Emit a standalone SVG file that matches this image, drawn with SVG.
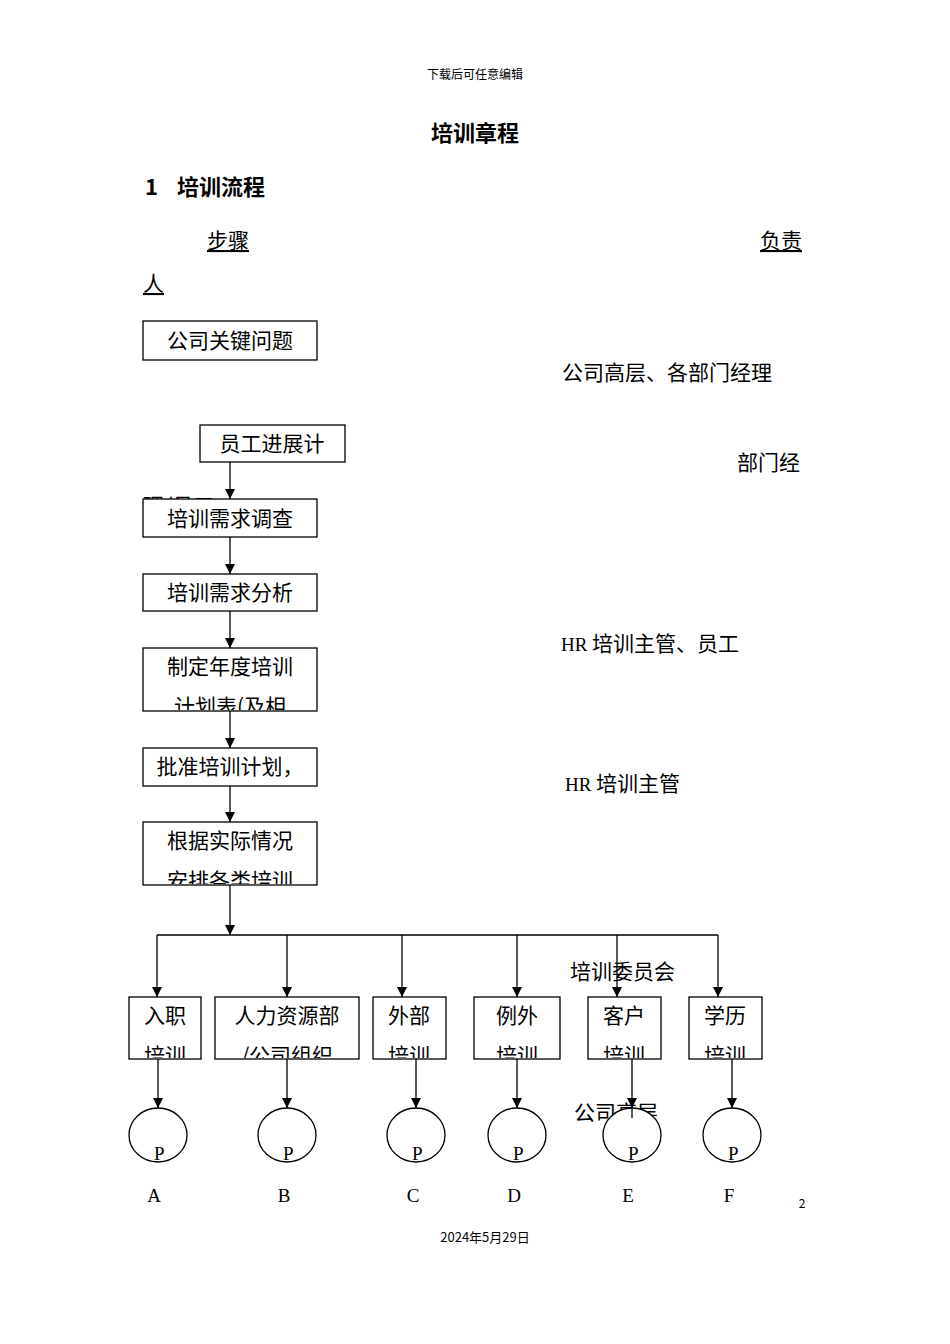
<svg xmlns="http://www.w3.org/2000/svg" width="950" height="1344" viewBox="0 0 950 1344">
<style>
text{font-family:"Noto Sans CJK SC","Liberation Sans",sans-serif;fill:#000}
.t{font-size:21px}
.s{font-family:"Liberation Serif","Noto Sans CJK SC",serif;font-size:19px}
.b{fill:#fff;stroke:#000;stroke-width:1.3}
.l{stroke:#000;stroke-width:1.3;fill:none}
</style>
<defs>
<marker id="a" markerWidth="10" markerHeight="10" refX="10" refY="5" orient="auto" markerUnits="userSpaceOnUse"><path d="M0,0 L10,5 L0,10 Z" fill="#000"/></marker>
<clipPath id="c5"><rect x="143" y="648" width="174" height="62"/></clipPath>
<clipPath id="c7"><rect x="143" y="822" width="174" height="62"/></clipPath>
<clipPath id="cb"><rect x="0" y="997" width="950" height="61"/></clipPath>
</defs>
<rect width="950" height="1344" fill="#fff"/>
<text x="475" y="79" font-size="12" text-anchor="middle">下载后可任意编辑</text>
<text x="475" y="141" font-size="22" font-weight="bold" text-anchor="middle">培训章程</text>
<text x="145" y="195" font-size="22" font-family="Liberation Serif" font-weight="bold">1</text>
<text x="177" y="195" font-size="22" font-weight="bold">培训流程</text>
<text x="207" y="248" class="t" text-decoration="underline">步骤</text>
<text x="760" y="248" class="t" text-decoration="underline">负责</text>
<text x="143" y="291" class="t" text-decoration="underline">人</text>
<text x="562" y="380" class="t">公司高层、各部门经理</text>
<text x="737" y="470" class="t">部门经</text>
<text x="143" y="513" class="t">理/员工</text>
<text x="561" y="651" class="t"><tspan class="s">HR</tspan> 培训主管、员工</text>
<text x="565" y="791" class="t"><tspan class="s">HR</tspan> 培训主管</text>
<text x="570" y="979" class="t">培训委员会</text>
<text x="574" y="1120" class="t">公司高层</text>
<g id="connectors">
<line class="l" x1="230" y1="462" x2="230" y2="499" marker-end="url(#a)"/>
<line class="l" x1="230" y1="537" x2="230" y2="574" marker-end="url(#a)"/>
<line class="l" x1="230" y1="611" x2="230" y2="648" marker-end="url(#a)"/>
<line class="l" x1="230" y1="711" x2="230" y2="748" marker-end="url(#a)"/>
<line class="l" x1="230" y1="786" x2="230" y2="822" marker-end="url(#a)"/>
<line class="l" x1="230" y1="885" x2="230" y2="935" marker-end="url(#a)"/>
<line class="l" x1="157" y1="935" x2="718" y2="935"/>
<line class="l" x1="157" y1="935" x2="157" y2="997" marker-end="url(#a)"/>
<line class="l" x1="287" y1="935" x2="287" y2="997" marker-end="url(#a)"/>
<line class="l" x1="402" y1="935" x2="402" y2="997" marker-end="url(#a)"/>
<line class="l" x1="517" y1="935" x2="517" y2="997" marker-end="url(#a)"/>
<line class="l" x1="617" y1="935" x2="617" y2="997" marker-end="url(#a)"/>
<line class="l" x1="718" y1="935" x2="718" y2="997" marker-end="url(#a)"/>
</g>
<g id="n1"><rect class="b" x="143" y="321" width="174" height="39"/><text x="230" y="348" class="t" text-anchor="middle">公司关键问题</text></g>
<g id="n2"><rect class="b" x="200" y="425" width="145" height="37"/><text x="272" y="451" class="t" text-anchor="middle">员工进展计</text></g>
<g id="n3"><rect class="b" x="143" y="499" width="174" height="38"/><text x="230" y="526" class="t" text-anchor="middle">培训需求调查</text></g>
<g id="n4"><rect class="b" x="143" y="574" width="174" height="37"/><text x="230" y="600" class="t" text-anchor="middle">培训需求分析</text></g>
<g id="n5"><rect class="b" x="143" y="648" width="174" height="63"/><g clip-path="url(#c5)"><text x="230" y="674" class="t" text-anchor="middle">制定年度培训</text><text x="230" y="714" class="t" text-anchor="middle">计划表(及相</text></g></g>
<g id="n6"><rect class="b" x="143" y="748" width="174" height="38"/><text x="230" y="774" class="t" text-anchor="middle">批准培训计划，</text></g>
<g id="n7"><rect class="b" x="143" y="822" width="174" height="63"/><g clip-path="url(#c7)"><text x="230" y="848" class="t" text-anchor="middle">根据实际情况</text><text x="230" y="888" class="t" text-anchor="middle">安排各类培训</text></g></g>
<g id="b1"><rect class="b" x="129" y="997" width="72" height="62"/><text x="165" y="1023" class="t" text-anchor="middle">入职</text><text x="165" y="1063" class="t" text-anchor="middle" clip-path="url(#cb)">培训</text></g>
<g id="b2"><rect class="b" x="215" y="997" width="144" height="62"/><text x="287" y="1023" class="t" text-anchor="middle">人力资源部</text><text x="287" y="1063" class="t" text-anchor="middle" clip-path="url(#cb)">/公司组织</text></g>
<g id="b3"><rect class="b" x="373" y="997" width="73" height="62"/><text x="409" y="1023" class="t" text-anchor="middle">外部</text><text x="409" y="1063" class="t" text-anchor="middle" clip-path="url(#cb)">培训</text></g>
<g id="b4"><rect class="b" x="474" y="997" width="86" height="62"/><text x="517" y="1023" class="t" text-anchor="middle">例外</text><text x="517" y="1063" class="t" text-anchor="middle" clip-path="url(#cb)">培训</text></g>
<g id="b5"><rect class="b" x="588" y="997" width="73" height="62"/><text x="624" y="1023" class="t" text-anchor="middle">客户</text><text x="624" y="1063" class="t" text-anchor="middle" clip-path="url(#cb)">培训</text></g>
<g id="b6"><rect class="b" x="689" y="997" width="73" height="62"/><text x="725" y="1023" class="t" text-anchor="middle">学历</text><text x="725" y="1063" class="t" text-anchor="middle" clip-path="url(#cb)">培训</text></g>
<g id="connectors2">
<line class="l" x1="158" y1="1059" x2="158" y2="1108" marker-end="url(#a)"/>
<line class="l" x1="287" y1="1059" x2="287" y2="1108" marker-end="url(#a)"/>
<line class="l" x1="416" y1="1059" x2="416" y2="1108" marker-end="url(#a)"/>
<line class="l" x1="517" y1="1059" x2="517" y2="1108" marker-end="url(#a)"/>
<line class="l" x1="632" y1="1059" x2="632" y2="1108" marker-end="url(#a)"/>
<line class="l" x1="732" y1="1059" x2="732" y2="1108" marker-end="url(#a)"/>
</g>
<g id="circles">
<g id="pA"><ellipse class="b" cx="158" cy="1135" rx="29" ry="27"/><text x="154" y="1160" class="s">P</text><text x="154" y="1202" class="s" text-anchor="middle">A</text></g>
<g id="pB"><ellipse class="b" cx="287" cy="1135" rx="29" ry="27"/><text x="283" y="1160" class="s">P</text><text x="284" y="1202" class="s" text-anchor="middle">B</text></g>
<g id="pC"><ellipse class="b" cx="416" cy="1135" rx="29" ry="27"/><text x="412" y="1160" class="s">P</text><text x="413" y="1202" class="s" text-anchor="middle">C</text></g>
<g id="pD"><ellipse class="b" cx="517" cy="1135" rx="29" ry="27"/><text x="513" y="1160" class="s">P</text><text x="514" y="1202" class="s" text-anchor="middle">D</text></g>
<g id="pE"><ellipse class="b" cx="632" cy="1135" rx="29" ry="27"/><line class="l" x1="632" y1="1108" x2="632" y2="1118"/><text x="628" y="1160" class="s">P</text><text x="628" y="1202" class="s" text-anchor="middle">E</text></g>
<g id="pF"><ellipse class="b" cx="732" cy="1135" rx="29" ry="27"/><text x="728" y="1160" class="s">P</text><text x="729" y="1202" class="s" text-anchor="middle">F</text></g>
</g>
<text x="802" y="1208" font-size="12" text-anchor="middle">2</text>
<text x="485" y="1242" font-size="13" text-anchor="middle">2024年5月29日</text>
</svg>
